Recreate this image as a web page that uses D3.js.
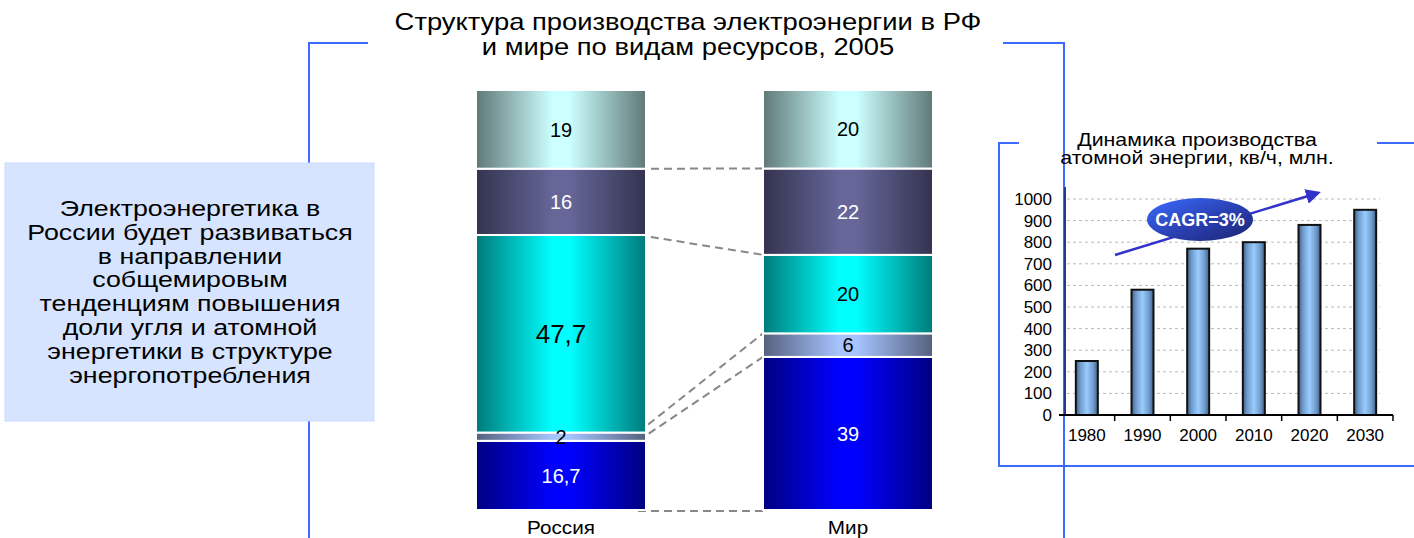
<!DOCTYPE html>
<html><head><meta charset="utf-8">
<script src="https://cdn.jsdelivr.net/npm/d3@7"></script>
<style>body{margin:0;background:#fff}svg{display:block;font-family:"Liberation Sans",Arial,sans-serif}</style>
</head><body>
<svg id="c" width="1414" height="538"></svg>
<script>
// ---------- data ----------
const titleLines = ["Структура производства электроэнергии в РФ", "и мире по видам ресурсов, 2005"];
const groups = ["Россия", "Мир"];
const segmentKeys = ["s1", "s2", "s3", "s4", "s5"]; // bottom -> top
const russiaValues = [16.7, 2, 47.7, 16, 19];
const worldValues = [39, 6, 20, 22, 20];
const noteLines = ["Электроэнергетика в", "России будет развиваться", "в направлении", "собщемировым",
  "тенденциям повышения", "доли угля и атомной", "энергетики в структуре", "энергопотребления"];
const insetTitle = ["Динамика производства", "атомной энергии, кв/ч, млн."];
const years = ["1980", "1990", "2000", "2010", "2020", "2030"];
const nuclearOutput = [250, 580, 770, 800, 880, 950];
const yTicks = [0, 100, 200, 300, 400, 500, 600, 700, 800, 900, 1000];
const cagrLabel = "CAGR=3%";

// ---------- styles ----------
const segStyle = [
  {edge: "#000080", mid: "#0000ff", text: "#fff"},
  {edge: "#56607e", mid: "#a6c4ff", text: "#000"},
  {edge: "#007a7a", mid: "#00ffff", text: "#000"},
  {edge: "#33334f", mid: "#666699", text: "#fff"},
  {edge: "#5f7877", mid: "#ccffff", text: "#000"}
];
const svg = d3.select("#c");
const defs = svg.append("defs");
segStyle.forEach((s, i) => {
  const g = defs.append("linearGradient").attr("id", "seg" + i).attr("x1", 0).attr("x2", 1).attr("y1", 0).attr("y2", 0);
  g.append("stop").attr("offset", 0).attr("stop-color", s.edge);
  g.append("stop").attr("offset", 0.45).attr("stop-color", s.mid);
  g.append("stop").attr("offset", 0.55).attr("stop-color", s.mid);
  g.append("stop").attr("offset", 1).attr("stop-color", s.edge);
});
const bg = defs.append("linearGradient").attr("id", "ibar").attr("x1", 0).attr("x2", 1).attr("y1", 0).attr("y2", 0);
[["0", "#3f5f85"], ["0.2", "#6f9acb"], ["0.5", "#99ccff"], ["0.8", "#6f9acb"], ["1", "#3f5f85"]]
  .forEach(([o, c]) => bg.append("stop").attr("offset", o).attr("stop-color", c));
const eg = defs.append("linearGradient").attr("id", "ell").attr("x1", 0).attr("x2", 1).attr("y1", 0).attr("y2", 1);
eg.append("stop").attr("offset", 0).attr("stop-color", "#3a6cff");
eg.append("stop").attr("offset", 0.55).attr("stop-color", "#2a3fb0");
eg.append("stop").attr("offset", 1).attr("stop-color", "#1a2470");
defs.append("marker").attr("id", "arr").attr("viewBox", "0 0 10 10").attr("refX", 8).attr("refY", 5)
  .attr("markerWidth", 6).attr("markerHeight", 6).attr("orient", "auto")
  .append("path").attr("d", "M0,0L10,5L0,10Z").attr("fill", "#3333cc");

const blue = "#3d6bff";

// stretched centred text block helper
function textBlock(lines, cx, y0, dy, size, sx) {
  svg.append("g").attr("transform", `translate(${cx},0) scale(${sx},1)`)
    .selectAll("text").data(lines).join("text")
    .attr("x", 0).attr("y", (d, i) => y0 + i * dy).attr("text-anchor", "middle")
    .attr("font-size", size).attr("fill", "#000").text(d => d);
}

// ---------- title ----------
textBlock(titleLines, 688, 30, 25, 23, 1.19);

// ---------- bracket lines ----------
svg.append("path").attr("d", "M368,43H309V163M309,421V538").attr("fill", "none").attr("stroke", blue).attr("stroke-width", 2);
svg.append("path").attr("d", "M1003,43H1064V538").attr("fill", "none").attr("stroke", blue).attr("stroke-width", 2);

// ---------- note box ----------
svg.append("rect").attr("x", 5).attr("y", 163).attr("width", 369).attr("height", 258)
  .attr("fill", "#d6e4ff").attr("stroke", "#c9dbff").attr("stroke-width", 1);
textBlock(noteLines, 190, 216, 23.8, 22.5, 1.19);

// ---------- stacked bars ----------
const x = d3.scaleBand().domain(groups).range([476, 476 + 287 + 170]).paddingInner(117 / 287).paddingOuter(0);
const y = d3.scaleLinear().domain([0, 1]).range([510, 90]);
const rows = [russiaValues, worldValues].map((vals, gi) => {
  const o = {group: groups[gi]};
  segmentKeys.forEach((k, i) => o[k] = vals[i]);
  return o;
});
const stack = d3.stack().keys(segmentKeys).offset(d3.stackOffsetExpand);
const series = stack(rows);
const fmt = v => String(v).replace(".", ",");

// connectors (cumulative boundaries)
const conn = svg.append("g");
for (let i = 0; i < segmentKeys.length; i++) {
  const r = series[i][0][0], w = series[i][1][0];
  conn.append("line")
    .attr("x1", x("Россия") + x.bandwidth() - 8).attr("y1", y(r) + (i === 0 ? 1 : 0))
    .attr("x2", x("Мир")).attr("y2", y(w) + (i === 0 ? 1 : 0))
    .attr("stroke", "#888").attr("stroke-width", 2).attr("stroke-dasharray", "8,5");
}

const bars = svg.append("g");
series.forEach((s, i) => {
  bars.selectAll(null).data(s).join("rect")
    .attr("x", d => x(d.data.group)).attr("width", x.bandwidth())
    .attr("y", d => y(d[1])).attr("height", d => y(d[0]) - y(d[1]))
    .attr("fill", `url(#seg${i})`).attr("stroke", "#fff").attr("stroke-width", 2);
});
series.forEach((s, i) => {
  bars.selectAll(null).data(s).join("text")
    .attr("x", d => x(d.data.group) + x.bandwidth() / 2)
    .attr("y", d => (y(d[0]) + y(d[1])) / 2)
    .attr("dy", "0.36em").attr("text-anchor", "middle")
    .attr("font-size", d => d.data[segmentKeys[i]] > 40 ? 26 : 20)
    .attr("fill", segStyle[i].text)
    .text(d => fmt(d.data[segmentKeys[i]]));
});
groups.forEach(gname => textBlock([gname], x(gname) + x.bandwidth() / 2, 534, 0, 18, 1.15));

// ---------- inset chart ----------
svg.append("path").attr("d", "M1019,143H999V466H1414M1377,143H1414").attr("fill", "none").attr("stroke", blue).attr("stroke-width", 2);
textBlock(insetTitle, 1197, 146, 18, 17.5, 1.22);

const ix = d3.scaleBand().domain(years).range([1059, 1393]).paddingInner(0.6).paddingOuter(0.3);
const iy = d3.scaleLinear().domain([0, 1000]).range([415, 199]);
const ig = svg.append("g");
ig.selectAll(".grid").data(yTicks.slice(1)).join("line")
  .attr("x1", 1067).attr("x2", 1380).attr("y1", d => iy(d)).attr("y2", d => iy(d))
  .attr("stroke", "#bbb").attr("stroke-width", 1).attr("stroke-dasharray", "3,3");
const yAx = ig.append("g").attr("transform", "translate(1065,0)")
  .call(d3.axisLeft(iy).tickValues(yTicks).tickFormat(d3.format("d")).tickSize(0).tickPadding(13));
yAx.select(".domain").attr("d", `M0,${iy(0)}V187`).attr("stroke", "#1f3a93").attr("stroke-width", 2);
yAx.selectAll("text").attr("font-size", 17).attr("font-family", "Liberation Sans, Arial, sans-serif").attr("fill", "#000");

ig.selectAll(".bar").data(years).join("rect")
  .attr("x", d => ix(d) + ix.bandwidth() / 2 - 11).attr("width", 22)
  .attr("y", (d, i) => iy(nuclearOutput[i])).attr("height", (d, i) => iy(0) - iy(nuclearOutput[i]))
  .attr("fill", "url(#ibar)").attr("stroke", "#111").attr("stroke-width", 2);

const xAx = ig.append("g").attr("transform", `translate(0,${iy(0)})`)
  .call(d3.axisBottom(ix).tickSize(0).tickPadding(14));
xAx.select(".domain").attr("d", "M1059,0H1393").attr("stroke", "#000").attr("stroke-width", 2);
xAx.selectAll("text").attr("font-size", 17).attr("font-family", "Liberation Sans, Arial, sans-serif").attr("fill", "#000");
const step = ix.step();
xAx.selectAll(".sep").data(years).join("line")
  .attr("x1", d => ix(d) + ix.bandwidth() / 2 + step / 2).attr("x2", d => ix(d) + ix.bandwidth() / 2 + step / 2)
  .attr("y1", 0).attr("y2", 6).attr("stroke", "#000").attr("stroke-width", 1.5);

// CAGR arrow + ellipse
ig.append("line").attr("x1", 1115).attr("y1", 255).attr("x2", 1318).attr("y2", 193)
  .attr("stroke", "#3333cc").attr("stroke-width", 2.5).attr("marker-end", "url(#arr)");
ig.append("ellipse").attr("cx", 1200).attr("cy", 219.5).attr("rx", 53).attr("ry", 21.5).attr("fill", "url(#ell)");
ig.append("text").attr("x", 1200).attr("y", 219.5).attr("dy", "0.36em").attr("text-anchor", "middle")
  .attr("font-size", 18).attr("font-weight", "bold").attr("fill", "#fff").text(cagrLabel);
</script>
</body></html>
